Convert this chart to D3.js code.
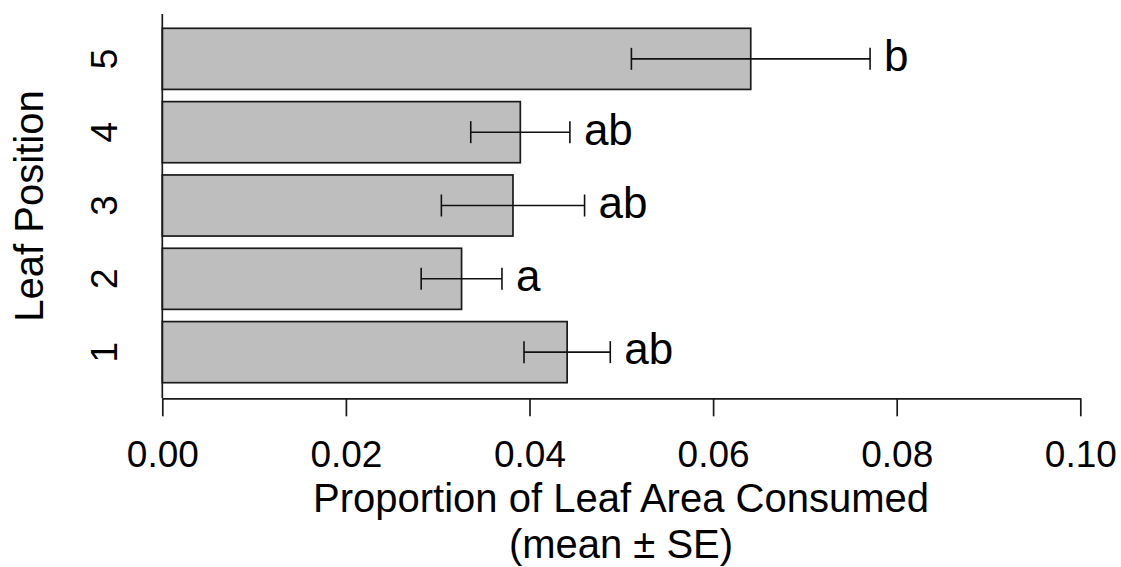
<!DOCTYPE html>
<html>
<head>
<meta charset="utf-8">
<script src="https://cdn.jsdelivr.net/npm/d3@7"></script>
<style>
  html, body { margin: 0; padding: 0; background: #fff; }
  svg { display: block; font-family: Arial, "Liberation Sans", sans-serif; }
</style>
</head>
<body>
<svg id="chart" width="1121" height="567"></svg>
<script>
// Data
const positions = ["1", "2", "3", "4", "5"];
const means = [0.0441, 0.0326, 0.0382, 0.0390, 0.0641];
const ses = [0.0047, 0.0044, 0.0078, 0.0054, 0.0130];
const letters = ["ab", "a", "ab", "ab", "b"];
const xTicks = [0, 0.02, 0.04, 0.06, 0.08, 0.10];

const svg = d3.select("#chart");

const x = d3.scaleLinear().domain([0, 0.10]).range([162.3, 1080.3]);
const y = d3.scaleBand().domain(positions).range([388.8, 22.2])
  .paddingInner(1 / 6).paddingOuter(1 / 12);

const axisY = 398.3;
const data = positions.map((p, i) => ({ p, m: means[i], se: ses[i], l: letters[i] }));

// Bars
svg.append("g").selectAll("rect").data(data).join("rect")
  .attr("x", x(0))
  .attr("y", d => y(d.p))
  .attr("width", d => x(d.m) - x(0))
  .attr("height", y.bandwidth())
  .attr("fill", "#bebebe")
  .attr("stroke", "#1a1a1a")
  .attr("stroke-width", 1.7);

// Error bars
const eb = svg.append("g").attr("stroke", "#111").attr("stroke-width", 1.6).attr("fill", "none");
data.forEach(d => {
  const cy = y(d.p) + y.bandwidth() / 2;
  const x0 = x(d.m - d.se), x1 = x(d.m + d.se);
  eb.append("line").attr("x1", x0).attr("x2", x1).attr("y1", cy).attr("y2", cy);
  eb.append("line").attr("x1", x0).attr("x2", x0).attr("y1", cy - 11).attr("y2", cy + 11);
  eb.append("line").attr("x1", x1).attr("x2", x1).attr("y1", cy - 11).attr("y2", cy + 11);
});

// Letters
svg.append("g").selectAll("text").data(data).join("text")
  .attr("x", d => x(d.m + d.se) + 14)
  .attr("y", d => y(d.p) + y.bandwidth() / 2)
  .attr("dy", "0.28em")
  .attr("font-size", 44)
  .attr("fill", "#000")
  .text(d => d.l);

// X axis
const xAxis = d3.axisBottom(x).tickValues(xTicks).tickFormat(d3.format(".2f"))
  .tickSize(18).tickSizeOuter(0).tickPadding(12);
const gx = svg.append("g").attr("transform", `translate(0,${axisY})`).call(xAxis);
gx.select(".domain").attr("stroke", "#1a1a1a").attr("stroke-width", 1.7);
gx.selectAll(".tick line").attr("stroke", "#1a1a1a").attr("stroke-width", 1.7);
gx.selectAll(".tick text").attr("font-size", 37).attr("font-family", "Arial, 'Liberation Sans', sans-serif")
  .attr("fill", "#000").attr("dy", null).attr("y", 68.5);

// Y axis line
svg.append("line").attr("x1", x(0)).attr("x2", x(0)).attr("y1", 14).attr("y2", axisY)
  .attr("stroke", "#1a1a1a").attr("stroke-width", 1.7);

// Y tick labels (rotated)
svg.append("g").selectAll("text").data(positions).join("text")
  .attr("transform", d => `translate(117,${y(d) + y.bandwidth() / 2}) rotate(-90)`)
  .attr("text-anchor", "middle")
  .attr("font-size", 37)
  .attr("fill", "#000")
  .text(d => d);

// Axis titles
svg.append("text")
  .attr("transform", `translate(43,206) rotate(-90)`)
  .attr("text-anchor", "middle")
  .attr("font-size", 40)
  .attr("fill", "#000")
  .text("Leaf Position");

svg.append("text").attr("x", 621).attr("y", 511.7).attr("text-anchor", "middle")
  .attr("font-size", 40).attr("fill", "#000").text("Proportion of Leaf Area Consumed");
svg.append("text").attr("x", 621).attr("y", 558).attr("text-anchor", "middle")
  .attr("font-size", 40).attr("fill", "#000").text("(mean ± SE)");
</script>
</body>
</html>
